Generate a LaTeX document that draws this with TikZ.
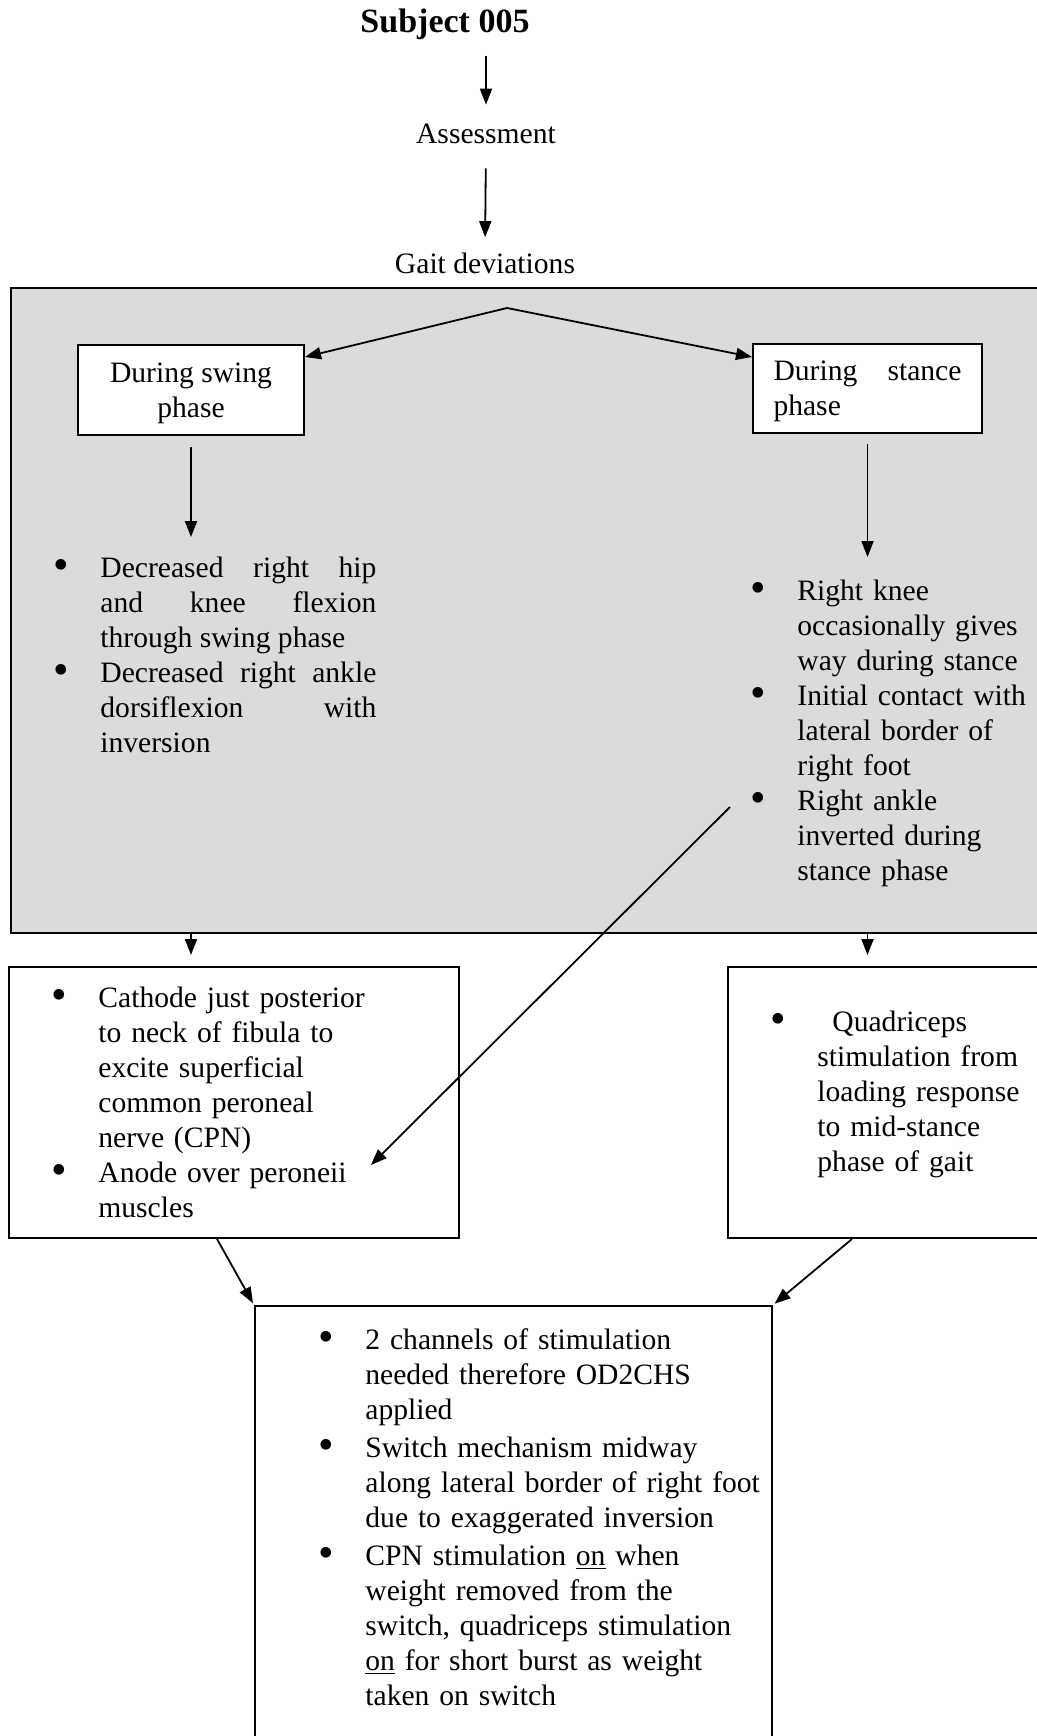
\documentclass[tikz,border=0pt]{standalone}
\usepackage{graphicx}
\usepackage{fontspec}
\setmainfont{Liberation Serif}
\usetikzlibrary{arrows.meta}
\newcommand{\txt}{\fontsize{14.8}{17.5}\selectfont}
\newcommand{\bigbul}{\raisebox{-1.2pt}{\scalebox{1.5}{\textbullet}}}
\newenvironment{pts}[1][0pt]{\begin{list}{\bigbul}{%
  \setlength{\leftmargin}{22pt}\setlength{\labelsep}{15.6pt}%
  \setlength{\labelwidth}{12pt}\setlength{\itemsep}{#1}%
  \setlength{\parsep}{0pt}\setlength{\topsep}{0pt}\setlength{\partopsep}{0pt}}%
  \tolerance=10000 \hyphenpenalty=10000}{\end{list}}
\begin{document}
\begin{tikzpicture}[x=0.5pt,y=-0.5pt,
  every node/.style={inner sep=0pt,font=\txt},
  arr/.style={-{Triangle[length=8pt,width=6pt]},line width=0.9pt},
  box/.style={draw,line width=1pt,fill=white},
  pane/.style={draw,line width=1.2pt,fill=black!14},
  list/.style={anchor=north west,align=left}]
\useasboundingbox (0,0) rectangle (1037,1736);
\clip (0,0) rectangle (1037,1736);
% top of the chart
\node[font=\fontsize{17}{20}\selectfont\bfseries] (title) at (445,24) {Subject 005};
\node (assess) at (486,134) {Assessment};
\node (gait) at (485,263) {Gait deviations};
\draw[arr,shorten <=8pt,shorten >=9.5pt] (title.south -| assess) -- (assess.north);
\draw[arr,shorten <=12pt,shorten >=7.5pt] (assess.south) -- (gait.north);
% gait deviations
\node[pane,anchor=north west,minimum width=525pt,minimum height=322.5pt] (dev) at (10,287) {};
\node[box,minimum width=113pt,minimum height=45pt,align=center,text depth=0pt] (swing) at (191,390)
  {During swing\\phase};
\node[box,minimum width=114.5pt,minimum height=44.5pt,align=left,text depth=0pt] (stance) at (867.5,388.5)
  {\makebox[94pt][s]{During stance}\\phase};
\coordinate (fork) at (507,308);
\draw[arr] (fork) -- ([yshift=-6.5pt]swing.north east);
\draw[arr] (fork) -- ([yshift=-7pt]stance.north west);
\node[anchor=north west,text width=160pt,align=justify] (swl) at (56,542) {\begin{pts}
  \item Decreased right hip\linebreak and knee flexion\linebreak through swing phase
  \item Decreased right ankle\linebreak dorsiflexion with\linebreak inversion
  \end{pts}};
\node[list,text width=142pt] (stl) at (753,565) {\begin{pts}
  \item Right knee\newline occasionally gives\newline way during stance
  \item Initial contact with\newline lateral border of\newline right foot
  \item Right ankle\newline inverted during\newline stance phase
  \end{pts}};
\draw[arr,shorten <=5.5pt,shorten >=2.5pt] (swing.south) -- (swing.south |- swl.north);
\draw[arr,shorten <=5pt,shorten >=4pt] (stance.south) -- (stance.south |- stl.north);
% stimulation
\node[box,anchor=north west,minimum width=225pt,minimum height=135.5pt] (cath) at (8,966) {};
\node[box,anchor=north west,minimum width=186.5pt,minimum height=135.5pt] (quad) at (727,966) {};
\node[list,text width=179pt] (catht) at (54,972) {\begin{pts}
  \item Cathode just posterior\newline to neck of fibula to\newline excite superficial\newline common peroneal\newline nerve (CPN)
  \item Anode over peroneii\newline muscles
  \end{pts}};
\node[list,text width=147pt] (quadt) at (773,996) {\begin{pts}
  \item \hspace*{7.5pt}Quadriceps\newline stimulation from\newline loading response\newline to mid-stance\newline phase of gait
  \end{pts}};
\draw[arr,shorten >=5.5pt] (swing |- dev.south) -- (swing |- cath.north);
\draw[arr,shorten >=5.5pt] (stance |- dev.south) -- (stance |- quad.north);
\coordinate (ankle) at (730,807);
\coordinate (anode) at (371,1165);
\draw[arr] (ankle) -- (anode);
% OD2CHS set-up
\node[box,anchor=north west,minimum width=258.5pt,minimum height=227.5pt] (plan) at (254,1305) {};
\node[list,text width=222pt] (plant) at (321,1314) {\begin{pts}[1.5pt]
  \item 2 channels of stimulation\newline needed therefore OD2CHS\newline applied
  \item Switch mechanism midway\newline along lateral border of right foot\newline due to exaggerated inversion
  \item CPN stimulation \underline{on} when\newline weight removed from the\newline switch, quadriceps stimulation\newline \underline{on} for short burst as weight\newline taken on switch
  \end{pts}};
\draw[arr,shorten >=1pt] ([xshift=-8.5pt]cath.south) -- (plan.north west);
\draw[arr,shorten >=1pt] ([xshift=62.5pt]quad.south west) -- (plan.north east);
\end{tikzpicture}
\end{document}
